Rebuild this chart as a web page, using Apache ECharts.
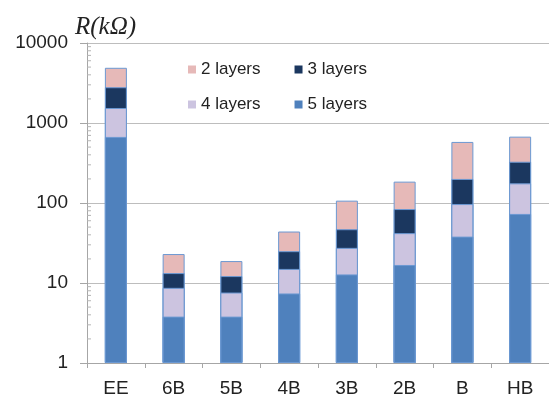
<!DOCTYPE html>
<html>
<head>
<meta charset="utf-8">
<script src="https://cdn.jsdelivr.net/npm/echarts@6/dist/echarts.min.js"></script>
<style>
  html, body { margin: 0; padding: 0; background: #ffffff; }
  #chart { width: 549px; height: 399px; }
</style>
</head>
<body>
<div id="chart"></div>
<script>
// Pencil grades on the x axis
const categories = ['EE', '6B', '5B', '4B', '3B', '2B', 'B', 'HB'];

// Resistance R (kΩ) per number of layers
const layers2 = [4900, 23, 18.8, 44, 107, 185, 580, 675];
const layers3 = [2800, 13.3, 12.2, 25, 47, 84, 200, 328];
const layers4 = [1540, 8.7, 7.6, 15, 27.5, 42, 97, 176];
const layers5 = [670, 3.8, 3.8, 7.4, 12.8, 16.8, 38, 73];

const seriesNames = ['2 layers', '3 layers', '4 layers', '5 layers'];

// log-axis minor tick positions (2..9 in each decade)
const minorTickValues = [];
for (let d = 1; d < 10000; d *= 10) {
  for (let m = 2; m <= 9; m++) minorTickValues.push(m * d);
}

const colors = ['#e6b9b8', '#1b375f', '#ccc4e0', '#4f81bd'];
const font = 'Liberation Sans, Arial, sans-serif';

function barSeries(name, data, color, z) {
  return {
    name: name,
    type: 'bar',
    data: data,
    barWidth: 22,
    barGap: '-100%',
    z: z,
    itemStyle: { color: color, borderColor: '#6b98d2', borderWidth: 1 },
    emphasis: { disabled: true }
  };
}

function legendRow(names, top) {
  return {
    data: names,
    left: 183, top: top,
    itemWidth: 8, itemHeight: 8, itemGap: 34, icon: 'rect',
    itemStyle: { borderWidth: 0 },
    textStyle: { fontFamily: font, fontSize: 17, color: '#222222', padding: [0, 0, 0, 0] },
    selectedMode: false
  };
}

const chart = echarts.init(document.getElementById('chart'), null, { renderer: 'canvas' });

chart.setOption({
  animation: false,
  backgroundColor: '#ffffff',
  title: {
    text: 'R(kΩ)',
    left: 70,
    top: 10,
    textStyle: {
      fontFamily: 'Liberation Serif, Times New Roman, serif',
      fontStyle: 'italic',
      fontWeight: 'normal',
      fontSize: 25,
      color: '#222222'
    }
  },
  legend: [
    legendRow(['2 layers', '3 layers'], 56),
    legendRow(['4 layers', '5 layers'], 91)
  ],
  grid: { left: 87, top: 43, width: 463, height: 320, containLabel: false },
  xAxis: {
    type: 'category',
    data: categories,
    axisLine: { lineStyle: { color: '#a6a6a6' } },
    axisTick: { show: true, length: 5, lineStyle: { color: '#a6a6a6' } },
    axisLabel: { fontFamily: font, fontSize: 19, color: '#222222', margin: 16 }
  },
  yAxis: {
    type: 'log',
    logBase: 10,
    min: 1,
    max: 10000,
    axisLine: { show: true, lineStyle: { color: '#a6a6a6' } },
    axisTick: { show: true, length: 7, lineStyle: { color: '#a6a6a6' } },
    axisLabel: {
      fontFamily: font, fontSize: 19, color: '#222222', margin: 19,
      formatter: function (v) { return String(Math.round(v)); }
    },
    splitLine: { show: true, lineStyle: { color: '#bdbdbd', width: 1 } },
    minorTick: { show: false }
  },
  series: [
    barSeries(seriesNames[0], layers2, colors[0], 2),
    barSeries(seriesNames[1], layers3, colors[1], 3),
    barSeries(seriesNames[2], layers4, colors[2], 4),
    barSeries(seriesNames[3], layers5, colors[3], 5),
    {
      // short minor ticks drawn just inside the log axis
      type: 'custom',
      silent: true,
      z: 1,
      data: minorTickValues.map(v => [0, v]),
      renderItem: function (params, api) {
        const y = api.coord([0, api.value(1)])[1];
        const x = params.coordSys.x;
        return {
          type: 'line',
          shape: { x1: x, y1: y, x2: x + 4, y2: y },
          style: { stroke: '#b5b5b5', lineWidth: 1 }
        };
      }
    }
  ]
});
</script>
</body>
</html>
